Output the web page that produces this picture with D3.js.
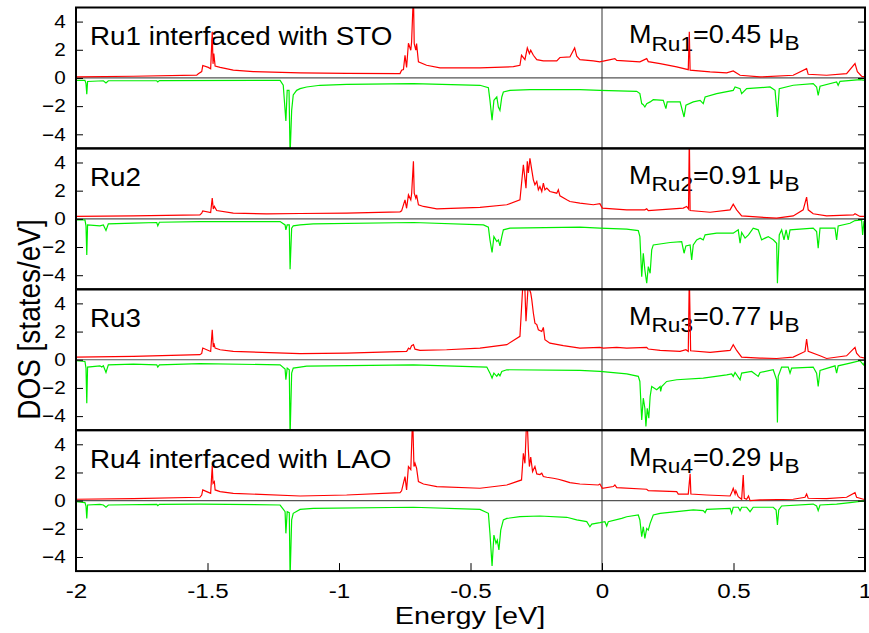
<!DOCTYPE html>
<html>
<head>
<meta charset="utf-8">
<script src="https://cdn.jsdelivr.net/npm/d3@7"></script>
<style>
  body { margin: 0; background: #fff; }
  text { font-family: "Liberation Sans", Arial, Helvetica, sans-serif; fill: #000; }
</style>
</head>
<body>
<div id="chart"></div>
<script>
// Ru d-DOS, spin up (red) and spin down (green), energies in eV
const energyTicks = [-2, -1.5, -1, -0.5, 0, 0.5, 1];
const dosTicks = [-4, -2, 0, 2, 4];
const panelLabels = ["Ru1 interfaced with STO", "Ru2", "Ru3", "Ru4 interfaced with LAO"];
const siteNames = ["Ru1", "Ru2", "Ru3", "Ru4"];
const moments = ["0.45", "0.91", "0.77", "0.29"];

const ru1Up = [[-2,0.07],[-1.782,0.12],[-1.541,0.2],[-1.535,0.3],[-1.522,0.45],[-1.518,0.88],[-1.497,0.75],[-1.488,0.65],
  [-1.482,3.27],[-1.479,1.0],[-1.476,1.73],[-1.471,0.85],[-1.452,0.75],[-1.402,0.55],[-1.326,0.45],[-1.148,0.36],
  [-0.971,0.33],[-0.768,0.31],[-0.762,0.55],[-0.755,0.6],[-0.749,1.6],[-0.743,0.75],[-0.736,2.46],[-0.727,1.97],
  [-0.724,2.56],[-0.717,6],[-0.714,2.44],[-0.708,1.97],[-0.705,2.44],[-0.698,1.14],[-0.667,0.9],[-0.616,0.71],
  [-0.464,0.71],[-0.337,0.8],[-0.312,0.9],[-0.306,1.61],[-0.293,1.3],[-0.284,2.13],[-0.276,1.73],[-0.271,1.97],
  [-0.261,1.61],[-0.248,1.3],[-0.223,1.21],[-0.172,1.21],[-0.16,1.45],[-0.122,1.49],[-0.104,2.13],[-0.096,1.55],
  [-0.084,1.3],[-0.033,1.21],[-0.008,1.14],[0.005,1.2],[0.049,1.37],[0.056,1.25],[0.144,1.14],[0.17,1.37],
  [0.176,1.16],[0.221,1.02],[0.284,0.78],[0.328,0.59],[0.332,3.27],[0.335,0.55],[0.411,0.43],[0.474,0.36],
  [0.499,0.5],[0.525,0.19],[0.601,0.07],[0.727,0.19],[0.778,0.66],[0.784,0.26],[0.854,0.19],[0.93,0.3],
  [0.962,1.02],[0.971,0.45],[0.987,0.12],[1,0.07]];
const ru1Dn = [[-2,-0.17],[-1.966,-0.17],[-1.962,-0.4],[-1.959,-1.16],[-1.956,-0.25],[-1.896,-0.2],[-1.886,-0.36],
  [-1.877,-0.2],[-1.693,-0.2],[-1.689,-0.28],[-1.683,-0.19],[-1.224,-0.17],[-1.212,-0.52],[-1.202,-3.06],
  [-1.197,-0.88],[-1.19,-0.88],[-1.186,-5.5],[-1.18,-2.3],[-1.174,-1.2],[-1.161,-0.88],[-1.148,-0.76],
  [-1.123,-0.64],[-1.072,-0.52],[-0.971,-0.45],[-0.717,-0.4],[-0.464,-0.52],[-0.432,-0.69],[-0.426,-1.59],
  [-0.418,-3.0],[-0.411,-1.59],[-0.4,-1.35],[-0.394,-2.06],[-0.388,-2.3],[-0.381,-1.35],[-0.375,-1.0],
  [-0.35,-0.88],[-0.274,-0.83],[-0.084,-0.83],[-0.008,-0.88],[0.132,-0.95],[0.144,-1.11],[0.151,-1.82],
  [0.157,-1.9],[0.163,-2.06],[0.17,-1.82],[0.183,-1.7],[0.195,-1.54],[0.233,-1.59],[0.243,-2.18],[0.248,-1.7],
  [0.297,-1.7],[0.312,-2.77],[0.319,-1.94],[0.347,-1.7],[0.373,-1.59],[0.385,-1.82],[0.392,-1.35],[0.436,-1.11],
  [0.499,-0.88],[0.506,-0.64],[0.525,-0.76],[0.531,-1.11],[0.55,-0.76],[0.639,-0.64],[0.658,-0.88],[0.667,-2.77],
  [0.674,-0.76],[0.727,-0.52],[0.803,-0.4],[0.816,-0.64],[0.822,-1.23],[0.829,-0.59],[0.892,-0.28],[0.898,-0.52],
  [0.905,-0.24],[0.981,-0.12],[1,-0.17]];

const ru2Up = [[-2,0.17],[-1.782,0.21],[-1.529,0.28],[-1.522,0.4],[-1.518,0.57],[-1.488,0.45],[-1.482,1.47],
  [-1.478,0.7],[-1.474,0.88],[-1.465,0.59],[-1.402,0.4],[-1.275,0.36],[-1.148,0.38],[-0.971,0.4],[-0.768,0.5],
  [-0.762,0.57],[-0.749,1.35],[-0.743,0.75],[-0.736,1.7],[-0.727,1.35],[-0.724,1.75],[-0.717,4.08],[-0.714,1.82],
  [-0.708,1.47],[-0.705,1.7],[-0.698,1.0],[-0.679,0.88],[-0.628,0.71],[-0.464,0.81],[-0.362,1.0],[-0.312,1.35],
  [-0.299,3.84],[-0.289,2.18],[-0.284,4.08],[-0.28,3.25],[-0.274,4.3],[-0.267,3.46],[-0.261,2.77],[-0.255,2.42],
  [-0.248,2.65],[-0.242,2.06],[-0.236,2.3],[-0.229,1.94],[-0.223,2.54],[-0.217,2.06],[-0.21,2.18],[-0.198,1.94],
  [-0.172,1.82],[-0.166,2.06],[-0.16,1.63],[-0.134,1.35],[-0.122,1.23],[-0.084,1.11],[-0.033,1.0],[-0.008,1.07],
  [0.001,0.76],[0.094,0.64],[0.163,0.64],[0.17,0.71],[0.176,0.59],[0.309,0.76],[0.322,0.88],[0.329,0.7],
  [0.332,6],[0.335,0.59],[0.411,0.47],[0.487,0.64],[0.499,1.04],[0.512,0.64],[0.531,0.21],[0.601,0.12],
  [0.664,0.05],[0.727,0.21],[0.765,0.64],[0.778,1.54],[0.784,0.64],[0.803,0.36],[0.854,0.21],[0.956,0.28],
  [0.962,0.36],[0.981,0.17],[1,0.17]];
const ru2Dn = [[-2,-0.07],[-1.966,-0.07],[-1.962,-0.5],[-1.959,-2.56],[-1.956,-0.43],[-1.909,-0.5],[-1.896,-0.43],
  [-1.886,-0.83],[-1.877,-0.36],[-1.782,-0.31],[-1.693,-0.26],[-1.689,-0.5],[-1.683,-0.24],[-1.529,-0.19],
  [-1.224,-0.19],[-1.205,-0.43],[-1.202,-0.78],[-1.197,-0.43],[-1.189,-0.43],[-1.186,-3.58],[-1.18,-0.66],
  [-1.174,-0.5],[-1.148,-0.43],[-1.098,-0.36],[-0.717,-0.26],[-0.451,-0.43],[-0.432,-0.59],[-0.426,-1.49],
  [-0.418,-2.39],[-0.411,-1.26],[-0.4,-1.61],[-0.394,-1.49],[-0.388,-1.92],[-0.381,-1.26],[-0.375,-0.78],
  [-0.35,-0.66],[-0.084,-0.59],[-0.008,-0.66],[0.094,-0.73],[0.138,-0.83],[0.144,-1.26],[0.151,-4.1],
  [0.157,-2.44],[0.163,-3.63],[0.17,-4.57],[0.176,-3.39],[0.183,-3.86],[0.189,-2.2],[0.195,-1.85],[0.259,-1.68],
  [0.303,-1.61],[0.312,-2.44],[0.319,-1.92],[0.335,-1.85],[0.341,-2.91],[0.347,-1.85],[0.36,-1.49],[0.373,-1.37],
  [0.385,-1.49],[0.392,-1.14],[0.436,-1.02],[0.499,-1.02],[0.518,-0.78],[0.525,-1.73],[0.531,-0.97],
  [0.544,-1.37],[0.557,-1.14],[0.575,-0.66],[0.594,-0.78],[0.607,-1.49],[0.62,-1.37],[0.632,-1.26],
  [0.651,-1.49],[0.664,-1.73],[0.667,-4.57],[0.674,-1.14],[0.683,-0.78],[0.692,-1.49],[0.7,-0.78],
  [0.708,-1.49],[0.715,-0.78],[0.803,-0.66],[0.816,-0.9],[0.822,-2.08],[0.829,-0.66],[0.886,-0.66],
  [0.892,-1.49],[0.898,-0.5],[0.943,-0.31],[0.962,-0.12],[0.987,-0.07],[0.991,-1.14],[0.996,-0.2],[1,-0.2]];

const ru3Up = [[-2,0.19],[-1.782,0.24],[-1.529,0.36],[-1.522,0.45],[-1.518,0.83],[-1.503,0.71],[-1.488,0.59],
  [-1.482,2.13],[-1.478,0.9],[-1.476,1.18],[-1.471,0.83],[-1.452,0.71],[-1.402,0.59],[-1.148,0.43],
  [-0.971,0.47],[-0.743,0.59],[-0.739,0.7],[-0.736,0.83],[-0.73,0.75],[-0.724,1.0],[-0.717,1.07],[-0.711,0.75],
  [-0.692,0.66],[-0.591,0.71],[-0.464,0.83],[-0.362,1.07],[-0.312,1.66],[-0.302,4.98],[-0.295,6],[-0.289,2.73],
  [-0.28,5.5],[-0.276,5.0],[-0.271,4.74],[-0.267,4.27],[-0.261,3.32],[-0.255,2.6],[-0.248,2.49],[-0.242,2.13],
  [-0.229,2.01],[-0.223,2.3],[-0.217,1.42],[-0.198,1.18],[-0.147,1.0],[-0.084,0.83],[-0.008,0.88],[0.005,0.83],
  [0.056,0.88],[0.094,0.83],[0.17,0.88],[0.176,0.76],[0.221,0.66],[0.297,0.59],[0.319,0.71],[0.328,0.59],
  [0.332,6],[0.337,0.64],[0.411,0.52],[0.487,0.66],[0.499,1.07],[0.512,0.66],[0.531,0.19],[0.601,0.12],
  [0.664,0.09],[0.727,0.19],[0.772,0.59],[0.778,1.47],[0.784,0.59],[0.829,0.28],[0.854,0.09],[0.93,0.28],
  [0.962,0.88],[0.968,0.47],[0.981,0.19],[1,0.12]];
const ru3Dn = [[-2,-0.07],[-1.966,-0.12],[-1.962,-0.59],[-1.959,-3.08],[-1.956,-0.52],[-1.909,-0.43],
  [-1.902,-0.52],[-1.896,-0.43],[-1.886,-0.9],[-1.877,-0.36],[-1.782,-0.31],[-1.693,-0.36],[-1.689,-0.52],
  [-1.683,-0.36],[-1.529,-0.28],[-1.224,-0.36],[-1.205,-0.66],[-1.202,-1.42],[-1.197,-0.59],[-1.189,-0.71],
  [-1.186,-5.5],[-1.18,-0.95],[-1.174,-0.59],[-1.148,-0.52],[-1.123,-0.45],[-0.717,-0.36],[-0.438,-0.52],
  [-0.426,-0.95],[-0.418,-1.3],[-0.411,-0.95],[-0.4,-1.18],[-0.394,-1.0],[-0.388,-1.14],[-0.381,-0.83],
  [-0.362,-0.71],[-0.084,-0.76],[-0.008,-0.83],[0.094,-1.0],[0.138,-1.18],[0.144,-1.54],[0.151,-4.27],
  [0.157,-2.73],[0.163,-3.44],[0.167,-4.74],[0.172,-3.44],[0.178,-4.15],[0.183,-2.61],[0.189,-1.9],
  [0.208,-2.13],[0.221,-1.9],[0.223,-2.25],[0.227,-1.9],[0.246,-1.54],[0.284,-1.42],[0.385,-1.3],
  [0.474,-1.07],[0.493,-1.0],[0.499,-1.18],[0.506,-0.9],[0.525,-1.42],[0.531,-0.95],[0.569,-0.83],
  [0.594,-1.18],[0.601,-0.9],[0.651,-0.71],[0.664,-1.42],[0.667,-4.45],[0.67,-1.18],[0.683,-0.52],
  [0.708,-0.52],[0.715,-0.95],[0.721,-0.59],[0.803,-0.52],[0.816,-0.95],[0.822,-1.9],[0.829,-0.76],
  [0.886,-0.43],[0.892,-0.95],[0.898,-0.43],[0.943,-0.24],[0.981,-0.07],[0.994,-0.36],[1,-0.1]];

const ru4Up = [[-2,0.1],[-1.782,0.14],[-1.529,0.24],[-1.522,0.4],[-1.518,0.76],[-1.503,0.64],[-1.488,0.52],
  [-1.482,2.46],[-1.479,1.23],[-1.474,1.35],[-1.471,0.76],[-1.452,0.64],[-1.402,0.52],[-1.148,0.33],
  [-0.971,0.4],[-0.768,0.57],[-0.762,0.7],[-0.749,1.71],[-0.743,0.76],[-0.736,2.42],[-0.727,2.2],[-0.72,6],
  [-0.715,2.42],[-0.711,2.65],[-0.705,2.3],[-0.698,1.35],[-0.679,1.18],[-0.628,1.0],[-0.464,0.88],
  [-0.362,1.11],[-0.306,1.47],[-0.299,3.36],[-0.293,2.65],[-0.286,6],[-0.283,5],[-0.28,3.6],[-0.276,2.42],
  [-0.271,3.1],[-0.264,2.06],[-0.255,2.42],[-0.248,1.9],[-0.236,1.85],[-0.229,1.95],[-0.223,1.71],
  [-0.21,1.66],[-0.185,1.59],[-0.166,1.52],[-0.147,1.42],[-0.122,1.28],[-0.084,1.18],[-0.014,1.11],
  [-0.008,1.18],[0.001,0.88],[0.043,1.0],[0.049,1.11],[0.056,0.93],[0.17,0.81],[0.176,0.71],[0.284,0.64],
  [0.29,0.47],[0.328,0.47],[0.335,1.9],[0.338,0.47],[0.398,0.4],[0.487,0.33],[0.493,0.57],[0.499,0.88],
  [0.506,0.47],[0.509,0.71],[0.518,0.28],[0.531,0.1],[0.537,1.82],[0.541,0.17],[0.55,0.1],[0.557,0.33],
  [0.563,0.0],[0.601,0.05],[0.727,0.1],[0.772,0.24],[0.778,0.47],[0.784,0.17],[0.854,0.14],[0.93,0.24],
  [0.962,0.57],[0.968,0.24],[0.994,0.1],[1,0.1]];
const ru4Dn = [[-2,-0.07],[-1.966,-0.14],[-1.962,-0.38],[-1.959,-1.26],[-1.956,-0.31],[-1.909,-0.26],
  [-1.896,-0.31],[-1.886,-0.47],[-1.877,-0.31],[-1.693,-0.26],[-1.689,-0.36],[-1.683,-0.26],[-1.529,-0.24],
  [-1.224,-0.31],[-1.205,-0.78],[-1.202,-2.32],[-1.197,-0.78],[-1.189,-0.85],[-1.186,-5.5],[-1.18,-1.37],
  [-1.174,-0.9],[-1.148,-0.62],[-1.098,-0.55],[-0.717,-0.47],[-0.464,-0.62],[-0.432,-0.9],[-0.426,-2.32],
  [-0.418,-4.64],[-0.411,-2.44],[-0.403,-3.03],[-0.398,-2.8],[-0.392,-3.5],[-0.385,-2.09],[-0.375,-1.37],
  [-0.362,-1.26],[-0.312,-1.14],[-0.236,-1.09],[-0.134,-1.18],[-0.096,-1.37],[-0.058,-1.49],[-0.046,-1.85],
  [-0.039,-1.66],[-0.008,-1.56],[0.011,-1.49],[0.018,-1.8],[0.024,-1.49],[0.075,-1.26],[0.094,-1.14],
  [0.138,-1.02],[0.144,-1.37],[0.151,-2.56],[0.157,-1.85],[0.163,-2.68],[0.17,-1.97],[0.176,-2.09],
  [0.183,-1.61],[0.195,-1.02],[0.221,-0.9],[0.347,-0.66],[0.385,-0.71],[0.392,-0.85],[0.398,-0.62],
  [0.487,-0.55],[0.493,-0.9],[0.499,-0.47],[0.518,-0.47],[0.525,-0.71],[0.531,-0.47],[0.55,-0.47],
  [0.563,-0.78],[0.575,-0.47],[0.651,-0.47],[0.662,-0.66],[0.667,-1.73],[0.672,-0.66],[0.683,-0.38],
  [0.803,-0.24],[0.816,-0.38],[0.822,-0.71],[0.829,-0.31],[0.892,-0.24],[0.943,-0.14],[0.981,-0.05],[1,-0.02]];

const upSeries = [ru1Up, ru2Up, ru3Up, ru4Up];
const dnSeries = [ru1Dn, ru2Dn, ru3Dn, ru4Dn];

const width = 869, height = 633;
const left = 76, right = 865, top0 = 7.5, panelH = 140.9;

const svg = d3.select("#chart").append("svg")
  .attr("width", width)
  .attr("height", height);

const x = d3.scaleLinear().domain([-2, 1]).range([left, right]);
const yScales = panelLabels.map((_, i) =>
  d3.scaleLinear().domain([-5, 5]).range([top0 + (i + 1) * panelH, top0 + i * panelH]));

// panel contents
panelLabels.forEach((label, i) => {
  const y = yScales[i];
  const top = top0 + i * panelH;
  const g = svg.append("g");

  g.append("clipPath").attr("id", "clip" + i)
    .append("rect")
    .attr("x", left).attr("y", top)
    .attr("width", right - left).attr("height", panelH);

  g.append("line")
    .attr("x1", left).attr("x2", right)
    .attr("y1", y(0)).attr("y2", y(0))
    .attr("stroke", "#555").attr("stroke-width", 1.2);
  g.append("line")
    .attr("x1", x(0)).attr("x2", x(0))
    .attr("y1", top).attr("y2", top + panelH)
    .attr("stroke", "#333").attr("stroke-width", 1);

  g.append("text")
    .attr("transform", `translate(90,${top + 37.5}) scale(1.07,1)`)
    .style("font-size", "26px")
    .text(label);

  const m = g.append("text")
    .attr("transform", `translate(629,${top + 35.5}) scale(1.08,1)`)
    .style("font-size", "25px");
  m.append("tspan").text("M");
  m.append("tspan").attr("dy", 7.5).style("font-size", "21px").text(siteNames[i]);
  m.append("tspan").attr("dy", -7.5).text("=" + moments[i] + " \u03bc");
  m.append("tspan").attr("dy", 7).style("font-size", "21px").text("B");

  const line = d3.line().x(d => x(d[0])).y(d => y(d[1]));
  const curves = g.append("g").attr("clip-path", `url(#clip${i})`);
  curves.append("path").datum(dnSeries[i])
    .attr("d", line).attr("fill", "none")
    .attr("stroke", "#00ee00").attr("stroke-width", 1.2);
  curves.append("path").datum(upSeries[i])
    .attr("d", line).attr("fill", "none")
    .attr("stroke", "#ff0000").attr("stroke-width", 1.2);
});

// frames and axes
panelLabels.forEach((label, i) => {
  const y = yScales[i];
  const top = top0 + i * panelH;

  const la = svg.append("g")
    .attr("transform", `translate(${left},0)`)
    .call(d3.axisLeft(y).tickValues(dosTicks).tickSize(-7).tickPadding(9).tickFormat(d3.format("d")));
  la.select(".domain").remove();
  la.selectAll("text").style("font-size", "18px").attr("transform", "scale(1.15,1)");

  const ra = svg.append("g")
    .attr("transform", `translate(${right},0)`)
    .call(d3.axisRight(y).tickValues(dosTicks).tickSize(-7).tickFormat(""));
  ra.select(".domain").remove();

  svg.append("rect")
    .attr("x", left).attr("y", top)
    .attr("width", right - left).attr("height", panelH)
    .attr("fill", "none").attr("stroke", "#000").attr("stroke-width", 2);
});

const bottom = top0 + 4 * panelH;
const xa = svg.append("g")
  .attr("transform", `translate(0,${bottom})`)
  .call(d3.axisBottom(x).tickValues(energyTicks).tickSize(-8).tickPadding(12).tickFormat(d => d));
xa.select(".domain").remove();
xa.selectAll("text").style("font-size", "21px").attr("transform", "scale(1.15,1)");

svg.append("text")
  .attr("transform", `translate(470,624) scale(1.2,1)`)
  .attr("text-anchor", "middle")
  .style("font-size", "24px")
  .text("Energy [eV]");

svg.append("text")
  .attr("transform", `translate(40,319.5) rotate(-90) scale(1,1.15)`)
  .attr("text-anchor", "middle")
  .style("font-size", "28px")
  .text("DOS [states/eV]");
</script>
</body>
</html>
